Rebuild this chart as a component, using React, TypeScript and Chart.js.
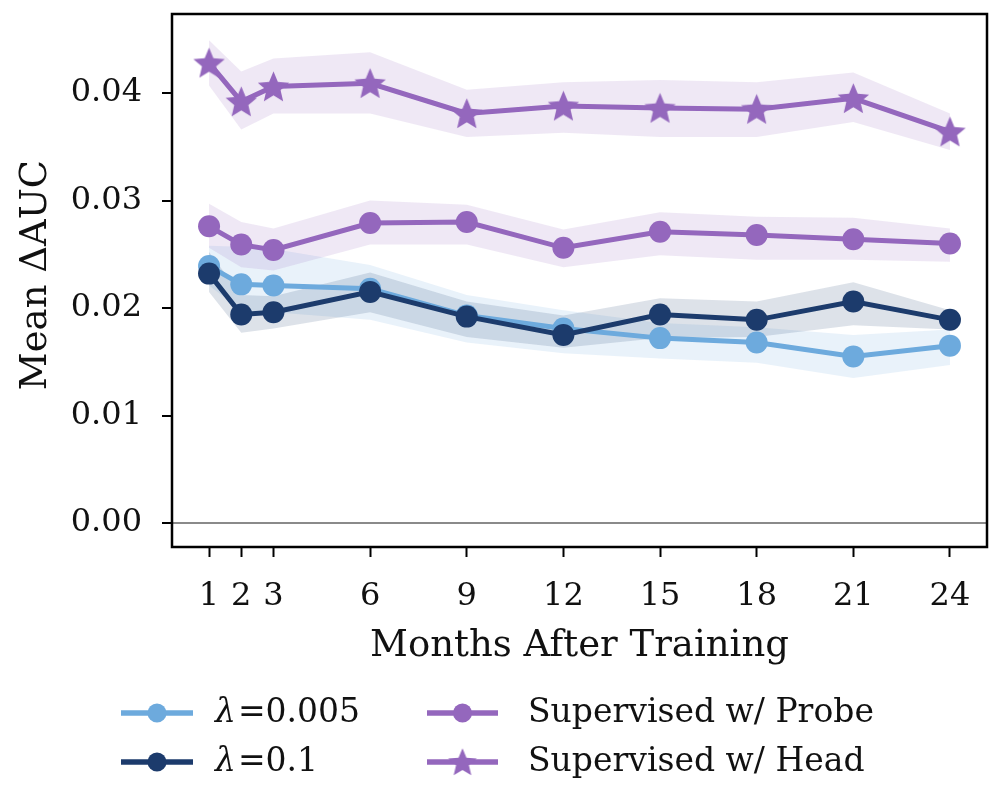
import React, { useEffect, useRef } from "react";
import { Chart, registerables } from "chart.js";

Chart.register(...registerables);

// ---------------- data ----------------
const MONTHS = [1, 2, 3, 6, 9, 12, 15, 18, 21, 24];

const LAMBDA_005 = [0.0239, 0.0222, 0.0221, 0.0218, 0.0193, 0.0181, 0.0172, 0.0168, 0.0155, 0.0165];
const LAMBDA_005_UPPER = [0.0258, 0.0257, 0.0255, 0.024, 0.0212, 0.0198, 0.0186, 0.0182, 0.0175, 0.018];
const LAMBDA_005_LOWER = [0.0221, 0.0198, 0.0196, 0.0189, 0.0168, 0.0158, 0.0153, 0.0149, 0.0135, 0.0147];

const LAMBDA_01 = [0.0232, 0.0194, 0.0196, 0.0215, 0.0192, 0.0175, 0.0194, 0.0189, 0.0206, 0.0189];
const LAMBDA_01_UPPER = [0.0252, 0.0212, 0.0211, 0.0233, 0.0206, 0.0193, 0.0209, 0.0206, 0.0224, 0.0198];
const LAMBDA_01_LOWER = [0.0215, 0.0177, 0.0181, 0.0196, 0.0173, 0.0163, 0.0172, 0.0173, 0.0184, 0.018];

const PROBE = [0.0276, 0.0259, 0.0254, 0.0279, 0.028, 0.0256, 0.0271, 0.0268, 0.0264, 0.026];
const PROBE_UPPER = [0.0297, 0.028, 0.0274, 0.03, 0.0296, 0.0273, 0.0289, 0.0285, 0.0284, 0.0274];
const PROBE_LOWER = [0.0256, 0.0238, 0.0235, 0.0259, 0.0259, 0.0238, 0.0249, 0.0245, 0.0245, 0.0243];

const HEAD = [0.0428, 0.0392, 0.0406, 0.0409, 0.0381, 0.0388, 0.0386, 0.0385, 0.0395, 0.0364];
const HEAD_UPPER = [0.0449, 0.042, 0.0432, 0.0438, 0.0403, 0.041, 0.0412, 0.041, 0.0419, 0.0381];
const HEAD_LOWER = [0.0407, 0.0366, 0.0381, 0.0381, 0.0359, 0.0363, 0.0359, 0.0359, 0.0373, 0.0347];

const X_TICKS = [1, 2, 3, 6, 9, 12, 15, 18, 21, 24];
const Y_TICKS = [0, 0.01, 0.02, 0.03, 0.04];

const SERIES_LABELS = ["λ=0.005", "λ=0.1", "Supervised w/ Probe", "Supervised w/ Head"];
const X_TITLE = "Months After Training";
const Y_TITLE = "Mean ΔAUC";

// ---------------- style ----------------
const FONT = "'DejaVu Serif', serif";
const C_LIGHT = "#6daadd";
const C_DARK = "#1c3b6c";
const C_PURPLE = "#9467bd";

function rgba(hex: string, a: number) {
  const n = parseInt(hex.slice(1), 16);
  return `rgba(${(n >> 16) & 255},${(n >> 8) & 255},${n & 255},${a})`;
}

function makeStar(color: string, r: number) {
  const size = Math.ceil(r * 2 + 4);
  const c = document.createElement("canvas");
  c.width = size;
  c.height = size;
  const ctx = c.getContext("2d")!;
  ctx.fillStyle = color;
  ctx.beginPath();
  const cx = size / 2;
  const cy = size / 2 + r * 0.08;
  const inner = r * 0.45;
  for (let i = 0; i < 10; i++) {
    const ang = -Math.PI / 2 + (i * Math.PI) / 5;
    const rr = i % 2 === 0 ? r : inner;
    ctx.lineTo(cx + rr * Math.cos(ang), cy + rr * Math.sin(ang));
  }
  ctx.closePath();
  ctx.fill();
  return c;
}

const pts = (ys: number[]) => MONTHS.map((m, i) => ({ x: m, y: ys[i] }));

export default function App() {
  const ref = useRef<HTMLCanvasElement | null>(null);

  useEffect(() => {
    document.body.style.margin = "0";
    const canvas = ref.current!;
    const star = makeStar(C_PURPLE, 16.5);
    const legendStar = makeStar(C_PURPLE, 15);

    const series = [
      { label: SERIES_LABELS[0], data: LAMBDA_005, up: LAMBDA_005_UPPER, lo: LAMBDA_005_LOWER, color: C_LIGHT, style: "circle" as any, order: 4 },
      { label: SERIES_LABELS[1], data: LAMBDA_01, up: LAMBDA_01_UPPER, lo: LAMBDA_01_LOWER, color: C_DARK, style: "circle" as any, order: 3 },
      { label: SERIES_LABELS[2], data: PROBE, up: PROBE_UPPER, lo: PROBE_LOWER, color: C_PURPLE, style: "circle" as any, order: 2 },
      { label: SERIES_LABELS[3], data: HEAD, up: HEAD_UPPER, lo: HEAD_LOWER, color: C_PURPLE, style: star as any, order: 1 },
    ];

    const datasets: any[] = [];
    series.forEach((s, i) => {
      datasets.push({
        label: s.label + " upper",
        data: pts(s.up),
        fill: "+1",
        backgroundColor: rgba(s.color, 0.15),
        borderWidth: 0,
        pointRadius: 0,
        order: 20 - i,
      });
      datasets.push({
        label: s.label + " lower",
        data: pts(s.lo),
        fill: false,
        borderWidth: 0,
        pointRadius: 0,
        order: 20 - i,
      });
    });
    series.forEach((s) => {
      datasets.push({
        label: s.label,
        data: pts(s.data),
        fill: false,
        borderColor: s.color,
        backgroundColor: s.color,
        borderWidth: 5,
        pointStyle: s.style,
        pointRadius: 11,
        pointBackgroundColor: s.color,
        pointBorderWidth: 0,
        order: s.order,
      });
    });

    const decor = {
      id: "decor",
      afterDraw(chart: any) {
        const { ctx, chartArea: a } = chart;
        ctx.save();
        // frame
        ctx.strokeStyle = "#000";
        ctx.lineWidth = 2.5;
        ctx.strokeRect(a.left, a.top, a.right - a.left, a.bottom - a.top);
        // axis titles
        ctx.fillStyle = "#111";
        ctx.font = `37px ${FONT}`;
        ctx.textAlign = "center";
        ctx.textBaseline = "alphabetic";
        ctx.fillText(X_TITLE, (a.left + a.right) / 2, 656);
        ctx.save();
        ctx.translate(46, 275);
        ctx.rotate(-Math.PI / 2);
        ctx.fillText(Y_TITLE, 0, 0);
        ctx.restore();

        // legend
        const rows = [713, 762];
        const cols = [
          { x0: 121, x1: 193, text: 215 },
          { x0: 427, x1: 498, text: 528 },
        ];
        const LFS = 33;
        series.forEach((s, i) => {
          const col = cols[Math.floor(i / 2)];
          const y = rows[i % 2];
          ctx.strokeStyle = s.color;
          ctx.lineWidth = 5.5;
          ctx.beginPath();
          ctx.moveTo(col.x0, y);
          ctx.lineTo(col.x1, y);
          ctx.stroke();
          const mx = (col.x0 + col.x1) / 2;
          if (s.style === "circle") {
            ctx.fillStyle = s.color;
            ctx.beginPath();
            ctx.arc(mx, y, 9.5, 0, Math.PI * 2);
            ctx.fill();
          } else {
            ctx.drawImage(legendStar, mx - legendStar.width / 2, y - legendStar.height / 2);
          }
          ctx.fillStyle = "#111";
          ctx.textAlign = "left";
          ctx.textBaseline = "middle";
          const lbl = s.label;
          if (lbl.startsWith("λ")) {
            ctx.font = `italic ${LFS}px ${FONT}`;
            ctx.fillText("λ", col.text, y);
            const w = ctx.measureText("λ").width;
            ctx.font = `${LFS}px ${FONT}`;
            ctx.fillText(lbl.slice(1), col.text + w + 2, y);
          } else {
            ctx.font = `${LFS}px ${FONT}`;
            ctx.fillText(lbl, col.text, y);
          }
        });
        ctx.restore();
      },
    };

    const chart = new Chart(canvas, {
      type: "line",
      data: { datasets },
      options: {
        responsive: false,
        animation: false,
        layout: { padding: { left: 0, right: 15, top: 14, bottom: 184 } },
        plugins: {
          legend: { display: false },
          tooltip: { enabled: false },
        },
        scales: {
          x: {
            type: "linear",
            min: -0.15,
            max: 25.15,
            afterFit: (sc: any) => {
              sc.height = 80;
              sc.paddingLeft = 0;
              sc.paddingRight = 0;
            },
            afterBuildTicks: (sc: any) => {
              sc.ticks = X_TICKS.map((v) => ({ value: v }));
            },
            ticks: {
              autoSkip: false,
              maxRotation: 0,
              padding: 20,
              color: "#111",
              font: { family: FONT, size: 32 },
              callback: (v: any) => String(v),
            },
            grid: {
              drawOnChartArea: false,
              tickLength: 10,
              tickWidth: 2,
              tickColor: "#000",
            },
            border: { display: false },
          },
          y: {
            type: "linear",
            min: -0.00223,
            max: 0.04735,
            afterFit: (sc: any) => {
              sc.width = 172;
              sc.paddingTop = 0;
              sc.paddingBottom = 0;
            },
            afterBuildTicks: (sc: any) => {
              sc.ticks = Y_TICKS.map((v) => ({ value: v }));
            },
            ticks: {
              padding: 20,
              color: "#111",
              font: { family: FONT, size: 32 },
              callback: (v: any) => Number(v).toFixed(2),
            },
            grid: {
              drawOnChartArea: true,
              color: (c: any) => (c.tick && Math.abs(c.tick.value) < 1e-9 ? "#8a8a8a" : "rgba(0,0,0,0)"),
              lineWidth: 2,
              tickLength: 10,
              tickWidth: 2,
              tickColor: "#000",
            },
            border: { display: false },
          },
        },
      },
      plugins: [decor],
    });
    return () => chart.destroy();
  }, []);

  return <canvas ref={ref} width={1002} height={811} style={{ display: "block" }} />;
}
